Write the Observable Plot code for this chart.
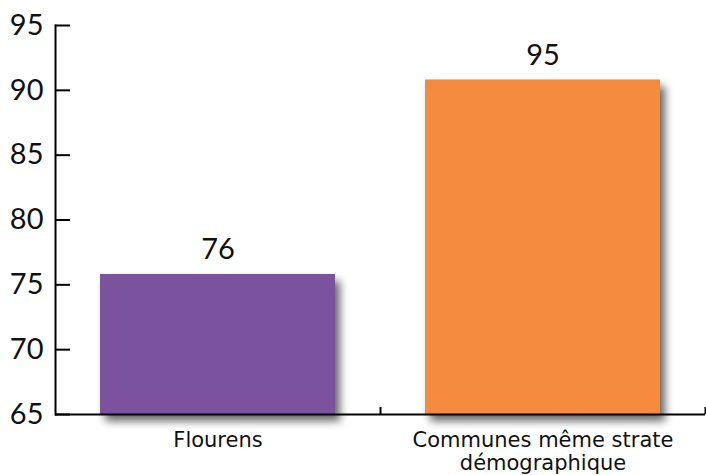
<!DOCTYPE html>
<html><head><meta charset="utf-8">
<script src="https://cdn.jsdelivr.net/npm/d3@7"></script>
<script src="https://cdn.jsdelivr.net/npm/@observablehq/plot@0.6"></script>
<style>
body{margin:0;background:#fff;}
svg{font-family:Lato,sans-serif;}
</style></head>
<body><div id="chart"></div>
<script>
const categories = ["Flourens", "Communes même strate\ndémographique"];
const values = [75.8, 90.8];
const valueLabels = ["76", "95"];
const colors = ["#7b529e", "#f48b3f"];
const yTicks = [65, 70, 75, 80, 85, 90, 95];

const data = categories.map((c, i) => ({cat: c, v: values[i], label: valueLabels[i], color: colors[i]}));

const width = 706, height = 475;
const mL = 55, mR = 1;
const step = (width - mL - mR) / categories.length;

const chart = Plot.plot({
  width, height,
  marginLeft: mL, marginRight: mR, marginTop: 25, marginBottom: 61,
  style: {fontFamily: "Lato, sans-serif", background: "#fff"},
  x: {domain: categories, paddingInner: 0.277, paddingOuter: 0.1385, label: null},
  y: {domain: [65, 95], label: null},
  marks: [
    Plot.barY(data, {x: "cat", y1: 65, y2: "v", fill: "color", className: "bars"}),
    Plot.text(data, {x: "cat", y: "v", text: "label", lineAnchor: "bottom", dy: -15, fontSize: 29, fill: "#111"}),
    Plot.axisY(yTicks, {tickSize: -15, tickPadding: 27, fontSize: 29, stroke: "#000", strokeWidth: 2, fill: "#111"}),
    Plot.axisX({tickSize: 0, tickPadding: 16, fontSize: 21, lineHeight: 1.1, fill: "#111", fontFamily: "DejaVu Sans"}),
    Plot.ruleX(categories, {x: d => d, dx: step / 2, y1: 65, y2: 65 + 7 / 13, stroke: "#000", strokeWidth: 2}),
    Plot.ruleY([65], {stroke: "#000", strokeWidth: 2}),
    Plot.frame({anchor: "left", stroke: "#000", strokeWidth: 2})
  ]
});
d3.select(chart).selectAll(".bars rect").style("filter", "drop-shadow(5px 7px 4px rgba(0,0,0,0.6))");
document.getElementById("chart").append(chart);
</script>
</body></html>
